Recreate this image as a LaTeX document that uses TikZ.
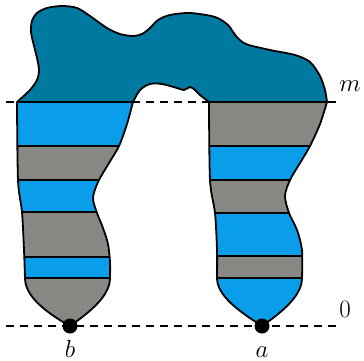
\documentclass[tikz,border=0pt]{standalone}
\usepackage{tikz}
\usetikzlibrary{positioning}

\definecolor{topteal}{RGB}{0,121,161}
\definecolor{bandblue}{RGB}{10,157,234}
\definecolor{bandgray}{RGB}{135,136,132}

% outlines, in pixel units
\newcommand\blobtop{plot[smooth, tension=0.5] coordinates {(17,102) (30,90) (37,80) (39,70) (37,58) (34,46) (31,32) (32,21) (37,13) (47,8) (62,6) (77,8) (90,16) (107,28) (120,34) (133,36) (142,34) (150,28) (158,20) (170,15) (190,13) (215,17) (228,25) (236,36) (246,44) (270,50) (295,55) (310,62) (320,76) (325,90) (327,102)}}
\newcommand\blobarch{plot[smooth, tension=0.5] coordinates {(209,102) (200,95) (195,90) (190,87) (184,90) (177,88) (162,84) (150,84) (140,90) (133,102)}}
\newcommand\leftcol{plot[smooth, tension=0.5] coordinates {(17,102) (18,180) (22,212) (24,250) (25,278)}
  .. controls (25,296) and (45,312) .. (70,326) .. controls (90,312) and (110,296) .. (110,278)
  -- plot[smooth, tension=0.5] coordinates {(110,278) (110,262) (108,244) (103,228) (97,213) (93,198) (98,182) (109,163) (119,146) (127,124) (133,102)} -- cycle}
\newcommand\rightcol{plot[smooth, tension=0.5] coordinates {(209,102) (210,180) (215,213) (217,250) (217,278)}
  .. controls (217,296) and (240,312) .. (262,326) .. controls (282,312) and (302,296) .. (302,278)
  -- plot[smooth, tension=0.5] coordinates {(302,278) (302,250) (297,230) (289,213) (285,196) (290,180) (300,163) (310,146) (320,124) (327,102)} -- cycle}

\begin{document}
\begin{tikzpicture}[
    x=1pt, y=-1pt,
    outline/.style={line width=1.8pt, line join=round},
    guide/.style={line width=1.1pt, dash pattern=on 8pt off 6pt},
    dot/.style={circle, fill=black, inner sep=0pt, minimum size=15pt},
    lbl/.style={font=\fontsize{28}{33}\selectfont, inner sep=0pt}
]
\useasboundingbox (0,0) rectangle (364,361);

% top blob
\fill[topteal] \blobtop
  -- plot[smooth, tension=0.5] coordinates {(209,102) (200,95) (195,90) (190,87) (184,90) (177,88) (162,84) (150,84) (140,90) (133,102)} -- cycle;
\draw[outline] \blobtop;
\draw[outline] \blobarch;

% left column
\begin{scope}
  \clip \leftcol;
  \fill[bandblue] (0,102) rectangle (364,146);
  \fill[bandgray] (0,146) rectangle (364,180);
  \fill[bandblue] (0,180) rectangle (364,212);
  \fill[bandgray] (0,212) rectangle (364,257);
  \fill[bandblue] (0,257) rectangle (364,278);
  \fill[bandgray] (0,278) rectangle (364,330);
  \foreach \y in {146,180,212,257,278}
    \draw[outline] (0,\y) -- (364,\y);
\end{scope}
\draw[outline] \leftcol;

% right column
\begin{scope}
  \clip \rightcol;
  \fill[bandgray] (0,102) rectangle (364,146);
  \fill[bandblue] (0,146) rectangle (364,180);
  \fill[bandgray] (0,180) rectangle (364,213);
  \fill[bandblue] (0,213) rectangle (364,256);
  \fill[bandgray] (0,256) rectangle (364,278);
  \fill[bandblue] (0,278) rectangle (364,330);
  \foreach \y in {146,180,213,256,278}
    \draw[outline] (0,\y) -- (364,\y);
\end{scope}
\draw[outline] \rightcol;

% levels
\coordinate (mstart) at (6,102);
\coordinate (mend) at (337,102);
\coordinate (zstart) at (6,326);
\coordinate (zend) at (337,326);
\draw[guide] (mstart) -- (mend);
\draw[guide] (zstart) -- (zend);
\node[lbl, anchor=base] (mlabel) at (350,92) {$m$};
\node[lbl, anchor=base] (zlabel) at (345,317) {$0$};

% end points
\node[dot] (b) at (70,326) {};
\node[dot] (a) at (262,326) {};
\node[lbl, anchor=base] (blabel) at (70,357) {$b$};
\node[lbl, anchor=base] (alabel) at (262,357) {$a$};
\end{tikzpicture}
\end{document}
